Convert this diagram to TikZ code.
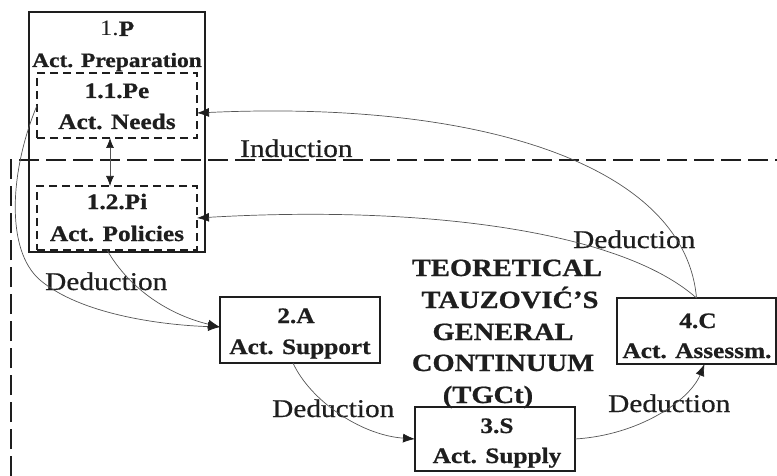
\documentclass[tikz,border=0pt]{standalone}
\usepackage{fontspec}
\setmainfont{Liberation Serif}[FakeStretch=1.15, BoldFeatures={FakeBold=0.8}]
\newfontfamily\lblfont{Liberation Serif}[FakeStretch=1.15, FakeBold=0.5]
\usetikzlibrary{arrows.meta,calc}
\definecolor{ink}{HTML}{1E1E1E}
\definecolor{wire}{HTML}{555555}

\begin{document}
\begin{tikzpicture}[x=1pt,y=-1pt,
  solidbox/.style={draw=ink, line width=1.8pt, rectangle, inner sep=0pt, outer sep=0pt, anchor=north west},
  dashbox/.style={solidbox, dash pattern=on 8pt off 5pt},
  boxtext/.style={text=ink, font=\bfseries\fontsize{22}{26}\selectfont, anchor=base, inner sep=0pt},
  lbl/.style={text=ink, font=\lblfont\fontsize{25.5}{30}\selectfont, anchor=base west, inner sep=0pt},
  titleline/.style={text=ink, font=\bfseries\fontsize{24.8}{30}\selectfont, anchor=base, inner sep=0pt},
  wireline/.style={draw=wire, line width=0.7pt, -{Latex[length=12pt,width=9pt,color=ink]}},
  frame/.style={draw=ink, line width=2.4pt, dash pattern=on 20pt off 7pt}]

\useasboundingbox (0,0) rectangle (777,476);

% outer dashed frame of the continuum
\coordinate (fb) at (11,476);
\coordinate (fc) at (11,160);
\coordinate (fr) at (777,160);
\draw[frame] (fb) -- (fc) -- (fr);

% boxes
\node[solidbox, minimum width=176pt, minimum height=240pt] (p) at (29,12) {};
\node[dashbox, minimum width=160pt, minimum height=65pt] (pe) at (37,73) {};
\node[dashbox, minimum width=160pt, minimum height=64pt] (pi) at (37,186) {};
\node[solidbox, minimum width=160pt, minimum height=66pt] (a) at (220,297) {};
\node[solidbox, minimum width=160pt, minimum height=64pt] (s) at (415,407) {};
\node[solidbox, minimum width=159pt, minimum height=66pt] (c) at (617,298) {};

% box texts
\node[boxtext] (pT1) at (117,36) {{\mdseries 1.}P};
\node[boxtext, font=\bfseries\fontsize{20.4}{24}\selectfont] (pT2) at (117,67) {Act. Preparation};
\node[boxtext] (peT1) at (117,98) {1.1.Pe};
\node[boxtext] (peT2) at (117,129) {Act. Needs};
\node[boxtext] (piT1) at (117,209) {1.2.Pi};
\node[boxtext] (piT2) at (117,241) {Act. Policies};
\node[boxtext] (aT1) at (296,323) {2.A};
\node[boxtext] (aT2) at (300,354) {Act. Support};
\node[boxtext] (sT1) at (497,433) {3.S};
\node[boxtext] (sT2) at (497,463) {Act. Supply};
\node[boxtext] (cT1) at (698,328) {4.C};
\node[boxtext] (cT2) at (697,358) {Act. Assessm.};

% central title
\node[titleline] (t1) at (507,276) {TEORETICAL};
\node[titleline] (t2) at (510,308) {TAUZOVIĆ’S};
\node[titleline] (t3) at (503,340) {GENERAL};
\node[titleline] (t4) at (503,371) {CONTINUUM};
\node[titleline] (t5) at (488,403) {(TGCt)};

% connector labels
\node[lbl] (ind) at (240,157) {Induction};
\node[lbl] (d1) at (45,290) {Deduction};
\node[lbl] (d2) at (272,417) {Deduction};
\node[lbl] (d3) at (608,412) {Deduction};
\node[lbl] (d4) at (573,248) {Deduction};

% connectors
\draw[wireline] (c.north) .. controls (685,165) and (480,100) .. ([yshift=-7.5pt]pe.east);
\draw[wireline] (c.north) .. controls (620,230) and (420,205) .. (pi.east);
\coordinate (bend) at (40,280);
\draw[wireline] (pe.west) .. controls (10,170) and (5,250) .. (bend)
   .. controls (80,314) and (160,325) .. ([yshift=3pt]a.west);
\draw[wireline] ([xshift=-10pt]pi.south) .. controls (130,290) and (170,315) .. ([yshift=3pt]a.west);
\draw[wireline] ([xshift=-7pt]a.south) .. controls (310,400) and (360,435) .. (s.west);
\draw[wireline] (s.east) .. controls (640,435) and (690,400) .. ([xshift=8pt]c.south);
\draw[draw=wire, line width=0.7pt, {Latex[length=10pt,width=8pt,color=ink]}-{Latex[length=10pt,width=8pt,color=ink]}]
   ([xshift=-7pt]pe.south) -- ([xshift=-7pt]pi.north);

\end{tikzpicture}
\end{document}
